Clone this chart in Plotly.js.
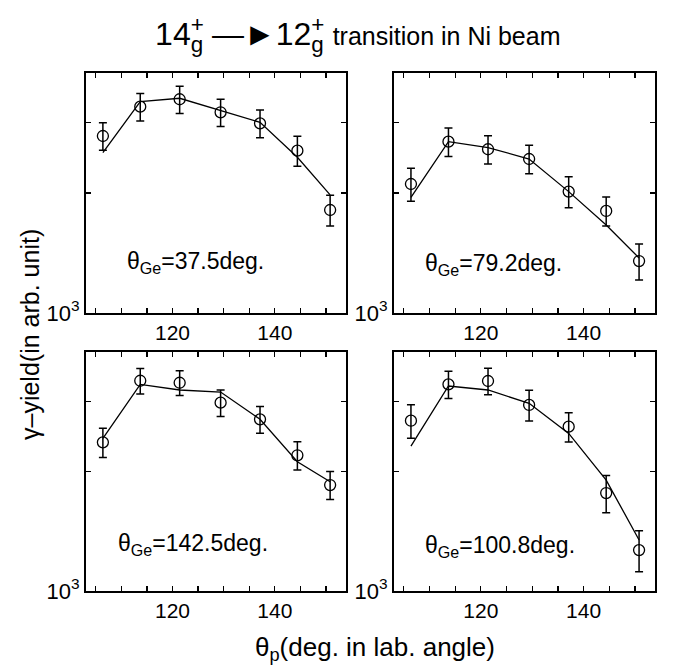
<!DOCTYPE html>
<html>
<head>
<meta charset="utf-8">
<script src="https://cdn.plot.ly/plotly-3.0.1.min.js"></script>
<style>body{margin:0;padding:0;background:#fff}#chart{width:674px;height:672px}</style>
</head>
<body>
<div id="chart"></div>
<script>
// Scattering angle of the projectile (deg, lab)
var angles = [106.4, 113.7, 121.4, 129.4, 137.1, 144.4, 150.8];

// Panel labels (Ge detector angle)
var panelLabels = ["37.5", "79.2", "142.5", "100.8"];

// Measured yields (arb. unit) and errors
var yieldA = [2780, 3293, 3437, 3188, 2991, 2554, 1813];   // 37.5 deg
var errA   = [220, 260, 270, 250, 240, 220, 160];
var yieldB = [2107, 2690, 2575, 2434, 2016, 1803, 1350];   // 79.2 deg
var errB   = [200, 220, 210, 200, 180, 150, 140];
var yieldC = [2369, 3386, 3347, 2981, 2707, 2197, 1849];   // 142.5 deg
var errC   = [200, 250, 240, 230, 210, 180, 150];
var yieldD = [2685, 3316, 3381, 2942, 2594, 1765, 1268];   // 100.8 deg
var errD   = [260, 260, 260, 260, 220, 190, 150];

// Calculated yields (line)
var calcA = [2525, 3390, 3457, 3217, 3008, 2458, 1978];
var calcB = [1950, 2690, 2600, 2434, 2016, 1662, 1374];
var calcC = [2425, 3316, 3209, 3171, 2707, 2117, 1885];
var calcD = [2318, 3284, 3209, 2970, 2495, 1903, 1344];

// Label anchor positions (data coords)
var labelX = [110.8, 108.8, 109.0, 108.8];
var labelY = [1335, 1320, 1306, 1291];

var xTickVals = [120, 140];
var xTickText = ["120", "140"];
var xMinorVals = [105, 110, 115, 125, 130, 135, 145, 150];
var yTickVals = [1000];
var yTickText = ["10<sup>3</sup>"];
var yMinorVals = [2000, 3000];

var FONT = "Liberation Sans, Arial, Helvetica, sans-serif";
var W = 674, H = 672;
var panels = [
  {obs: yieldA, err: errA, calc: calcA, x: [86, 346], y: [73, 313]},
  {obs: yieldB, err: errB, calc: calcB, x: [394, 655], y: [73, 313]},
  {obs: yieldC, err: errC, calc: calcC, x: [86, 346], y: [352, 591]},
  {obs: yieldD, err: errD, calc: calcD, x: [394, 655], y: [352, 591]}
];

var data = [];
var layout = {
  width: W, height: H,
  margin: {l: 0, r: 0, t: 0, b: 0},
  paper_bgcolor: "#fff", plot_bgcolor: "#fff",
  showlegend: false,
  font: {family: FONT, color: "#000", size: 20},
  annotations: []
};

panels.forEach(function (p, i) {
  var n = i === 0 ? "" : String(i + 1);
  var xa = "x" + n, ya = "y" + n;
  data.push({
    x: angles, y: p.calc, xaxis: xa, yaxis: ya,
    mode: "lines", type: "scatter",
    line: {color: "#000", width: 1.3}, hoverinfo: "skip"
  });
  data.push({
    x: angles, y: p.obs, xaxis: xa, yaxis: ya,
    mode: "markers", type: "scatter",
    marker: {symbol: "circle-open", size: 11, color: "#000", line: {width: 1.3, color: "#000"}},
    error_y: {type: "data", array: p.err, visible: true, color: "#000", thickness: 1.5, width: 4}
  });
  layout["xaxis" + n] = {
    domain: [p.x[0] / W, p.x[1] / W], anchor: ya,
    range: [103.1, 153.9], showgrid: false, zeroline: false,
    showline: true, linewidth: 2, linecolor: "#000", mirror: "ticks",
    ticks: "inside", ticklen: 5, tickwidth: 1.2, tickcolor: "#000",
    tickmode: "array", tickvals: xTickVals, ticktext: xTickText,
    minor: {tickmode: "array", tickvals: xMinorVals, ticks: "inside", ticklen: 5, tickwidth: 1.2, tickcolor: "#000", showgrid: false},
    tickfont: {size: 21, family: FONT}
  };
  layout["yaxis" + n] = {
    domain: [1 - p.y[1] / H, 1 - p.y[0] / H], anchor: xa,
    type: "log", range: [3, Math.log10(4000)], showgrid: false, zeroline: false,
    showline: true, linewidth: 2, linecolor: "#000", mirror: "ticks",
    ticks: "inside", ticklen: 5, tickwidth: 1.2, tickcolor: "#000",
    tickmode: "array", tickvals: yTickVals, ticktext: yTickText,
    minor: {tickmode: "array", tickvals: yMinorVals, ticks: "inside", ticklen: 5, tickwidth: 1.2, tickcolor: "#000", showgrid: false},
    tickfont: {size: 22, family: FONT}
  };
  layout.annotations.push({
    xref: xa, yref: ya, x: labelX[i], y: Math.log10(labelY[i]),
    xanchor: "left", yanchor: "middle", showarrow: false,
    text: "\u03b8<sub>Ge</sub>=" + panelLabels[i] + "deg.",
    font: {size: 23, family: FONT}
  });
});

// Global title
layout.annotations.push({
  xref: "paper", yref: "paper", x: 358 / W, y: 1 - 34 / H,
  xanchor: "center", yanchor: "middle", showarrow: false,
  text: "14<sup>+</sup><sub>g</sub> \u2014\u25BA12<sup>+</sup><sub>g</sub> <span style=\"font-size:25px\">transition in Ni beam</span>",
  font: {size: 32, family: FONT}
});
// Shared y title
layout.annotations.push({
  xref: "paper", yref: "paper", x: 30 / W, y: 1 - 335 / H,
  xanchor: "center", yanchor: "middle", showarrow: false, textangle: -90,
  text: "\u03b3\u2013yield(in arb. unit)",
  font: {size: 25, family: FONT}
});
// Shared x title
layout.annotations.push({
  xref: "paper", yref: "paper", x: 375 / W, y: 1 - 648 / H,
  xanchor: "center", yanchor: "middle", showarrow: false,
  text: "\u03b8<sub>p</sub>(deg. in lab. angle)",
  font: {size: 26, family: FONT}
});

Plotly.newPlot("chart", data, layout, {staticPlot: true}).then(function () {
  // stack the superscript "+" above the subscript "g" in the title
  var texts = document.querySelectorAll("g.annotation text");
  texts.forEach(function (t) {
    if (t.textContent.indexOf("transition") < 0) return;
    var spans = t.querySelectorAll("tspan");
    for (var k = 0; k < spans.length; k++) {
      if (spans[k].textContent === "+") {
        var w = spans[k].getComputedTextLength();
        for (var m = k + 1; m < spans.length; m++) {
          if (spans[m].textContent === "g") { spans[m].setAttribute("dx", -w); break; }
        }
      }
    }
  });
});
</script>
</body>
</html>
